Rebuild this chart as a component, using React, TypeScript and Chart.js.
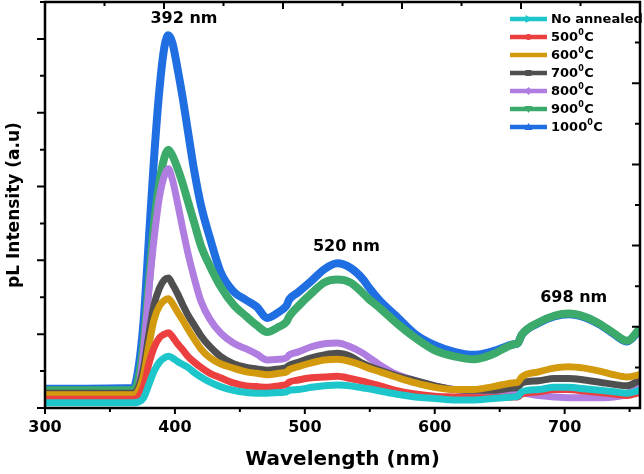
import { useEffect, useRef } from 'react';
import { Chart, registerables } from 'chart.js';

Chart.register(...registerables);

const FONT = '"DejaVu Sans", "Liberation Sans", sans-serif';

// wavelength grid (nm) shared by every spectrum
const wavelengths = [
  300, 368, 372, 376, 380, 384, 388, 392, 395, 398, 402, 406, 410, 415, 420, 427, 435, 445, 455, 463,
  471, 480, 486, 488, 495, 505, 515, 525, 535, 545, 549, 558, 570, 585, 600, 615, 630, 645, 660, 664,
  667, 680, 692, 703, 715, 727, 738, 748, 758,
];

// PL intensity (a.u.) for each sample
const noAnnealed = [
  0.07, 0.07, 0.08, 0.14, 0.32, 0.5, 0.62, 0.68, 0.7, 0.68, 0.63, 0.59, 0.55, 0.48, 0.42, 0.35, 0.29, 0.24, 0.21, 0.2,
  0.2, 0.21, 0.22, 0.24, 0.25, 0.28, 0.3, 0.31, 0.3, 0.27, 0.26, 0.23, 0.19, 0.15, 0.13, 0.11, 0.11, 0.13, 0.15, 0.16,
  0.22, 0.25, 0.28, 0.28, 0.26, 0.24, 0.22, 0.2, 0.24,
];
const t500 = [
  0.12, 0.12, 0.15, 0.3, 0.6, 0.82, 0.95, 1.0, 1.02, 0.97, 0.87, 0.79, 0.7, 0.62, 0.55, 0.47, 0.41, 0.34, 0.3, 0.29,
  0.28, 0.3, 0.32, 0.35, 0.38, 0.41, 0.42, 0.43, 0.4, 0.36, 0.34, 0.3, 0.24, 0.19, 0.16, 0.15, 0.14, 0.14, 0.15, 0.15,
  0.19, 0.22, 0.25, 0.25, 0.23, 0.21, 0.19, 0.17, 0.21,
];
const t600 = [
  0.18, 0.18, 0.24, 0.45, 0.85, 1.2, 1.38, 1.46, 1.48, 1.42, 1.3, 1.19, 1.07, 0.93, 0.8, 0.68, 0.6, 0.54, 0.49, 0.47,
  0.45, 0.47, 0.49, 0.52, 0.56, 0.61, 0.65, 0.66, 0.63, 0.57, 0.54, 0.49, 0.42, 0.34, 0.28, 0.25, 0.25, 0.29, 0.34, 0.35,
  0.42, 0.49, 0.54, 0.56, 0.54, 0.5, 0.45, 0.42, 0.45,
];
const t700 = [
  0.2, 0.2, 0.28, 0.55, 1.0, 1.4, 1.62, 1.74, 1.76, 1.68, 1.55, 1.4, 1.26, 1.12, 0.98, 0.83, 0.7, 0.6, 0.55, 0.53,
  0.51, 0.53, 0.55, 0.58, 0.62, 0.68, 0.72, 0.74, 0.7, 0.6, 0.57, 0.51, 0.44, 0.37, 0.3, 0.25, 0.24, 0.24, 0.27, 0.28,
  0.34, 0.37, 0.4, 0.4, 0.38, 0.35, 0.32, 0.3, 0.38,
];
const t800 = [
  0.15, 0.15, 0.25, 0.8, 1.6, 2.3, 2.85, 3.15, 3.24, 3.1, 2.78, 2.43, 2.1, 1.75, 1.45, 1.2, 1.02, 0.88, 0.8, 0.73,
  0.65, 0.66, 0.68, 0.72, 0.76, 0.83, 0.87, 0.88, 0.83, 0.74, 0.69, 0.58, 0.46, 0.37, 0.3, 0.25, 0.22, 0.2, 0.2, 0.2,
  0.2, 0.17, 0.15, 0.14, 0.14, 0.14, 0.15, 0.19, 0.35,
];
const t900 = [
  0.24, 0.24, 0.4, 0.9, 1.7, 2.5, 3.05, 3.4, 3.5, 3.42, 3.25, 3.04, 2.8, 2.5, 2.2, 1.92, 1.65, 1.4, 1.24, 1.12,
  1.03, 1.1, 1.17, 1.24, 1.38, 1.55, 1.7, 1.74, 1.7, 1.55, 1.48, 1.35, 1.16, 0.95, 0.78, 0.7, 0.66, 0.73, 0.86, 0.88,
  0.99, 1.16, 1.25, 1.28, 1.24, 1.14, 1.01, 0.91, 1.08,
];
const t1000 = [
  0.26, 0.27, 0.55, 1.2, 2.3, 3.4, 4.3, 4.9, 5.05, 4.95, 4.6, 4.2, 3.75, 3.2, 2.75, 2.3, 1.85, 1.58, 1.46, 1.37,
  1.22, 1.3, 1.39, 1.47, 1.57, 1.72, 1.88, 1.96, 1.9, 1.74, 1.64, 1.45, 1.25, 1.0, 0.85, 0.76, 0.72, 0.77, 0.86, 0.88,
  0.99, 1.15, 1.24, 1.27, 1.23, 1.13, 1.0, 0.9, 1.06,
];

const seriesLabels = ['No annealed', '500⁰C', '600⁰C', '700⁰C', '800⁰C', '900⁰C', '1000⁰C'];
const seriesValues = [noAnnealed, t500, t600, t700, t800, t900, t1000];
const seriesColors = ['#1DC6CA', '#EC3F3F', '#D39A0E', '#4F4F4F', '#B07DE0', '#3BAA6B', '#1F6FE2'];
const seriesWidths = [7, 7, 7, 7, 7, 8, 8];
const legendMarkers = ['triangle-right', 'circle', 'none', 'rect', 'diamond', 'triangle-down', 'triangle'];

// peak annotations
const peakLabels = ['392 nm', '520 nm', '698 nm'];
const peakLabelX = [407, 532, 707];
const peakLabelY = [5.27, 2.18, 1.49];

const xMin = 300;
const xMax = 758;
const yMin = 0;
const yMax = 5.5;

const frameAndTicks = {
  id: 'frameAndTicks',
  afterDatasetsDraw(chart) {
    const { ctx, chartArea: a, scales } = chart;
    ctx.save();
    ctx.strokeStyle = '#000';
    ctx.lineWidth = 2.5;
    ctx.strokeRect(a.left, a.top, a.right - a.left, a.bottom - a.top);
    ctx.lineWidth = 2;
    ctx.beginPath();
    for (let v = xMin; v <= xMax; v += 50) {
      const px = scales.x.getPixelForValue(v);
      const len = v % 100 === 0 ? 6 : 4;
      ctx.moveTo(px, a.bottom);
      ctx.lineTo(px, a.bottom + len);
    }
    for (let v = yMin; v <= yMax; v += 0.5) {
      const py = scales.y.getPixelForValue(v);
      const len = v % 1 === 0 ? 8 : 5;
      ctx.moveTo(a.left - len, py);
      ctx.lineTo(a.left, py);
    }
    for (let i = 0; i <= 10; i++) {
      const px = scales.xTop.getPixelForValue(i);
      const len = i % 2 === 0 ? 7 : 4;
      ctx.moveTo(px, a.top);
      ctx.lineTo(px, a.top + len);
      const py = scales.yRight.getPixelForValue(i);
      ctx.moveTo(a.right - len - 1, py);
      ctx.lineTo(a.right, py);
    }
    ctx.stroke();
    ctx.restore();
  },
};

const drawMarker = (ctx, kind, x, y, r) => {
  ctx.beginPath();
  if (kind === 'circle') ctx.arc(x, y, r, 0, Math.PI * 2);
  else if (kind === 'rect') ctx.rect(x - r, y - r, 2 * r, 2 * r);
  else if (kind === 'diamond') {
    ctx.moveTo(x, y - r - 1); ctx.lineTo(x + r + 1, y); ctx.lineTo(x, y + r + 1); ctx.lineTo(x - r - 1, y);
  } else if (kind === 'triangle') {
    ctx.moveTo(x, y - r - 1); ctx.lineTo(x + r + 1, y + r); ctx.lineTo(x - r - 1, y + r);
  } else if (kind === 'triangle-down') {
    ctx.moveTo(x, y + r + 1); ctx.lineTo(x + r + 1, y - r); ctx.lineTo(x - r - 1, y - r);
  } else if (kind === 'triangle-right') {
    ctx.moveTo(x + r + 1, y); ctx.lineTo(x - r, y - r - 1); ctx.lineTo(x - r, y + r + 1);
  } else return;
  ctx.closePath();
  ctx.fill();
};

const legendAndNotes = {
  id: 'legendAndNotes',
  afterDraw(chart) {
    const { ctx, chartArea: a, scales } = chart;
    ctx.save();
    ctx.textBaseline = 'middle';
    const x0 = a.right - 130;
    chart.data.datasets.forEach((ds, i) => {
      const y = a.top + 17 + i * 18;
      ctx.strokeStyle = ds.borderColor;
      ctx.fillStyle = ds.borderColor;
      ctx.lineWidth = 4.5;
      ctx.beginPath();
      ctx.moveTo(x0, y);
      ctx.lineTo(x0 + 37, y);
      ctx.stroke();
      drawMarker(ctx, legendMarkers[i], x0 + 18.5, y, 3);
      ctx.fillStyle = '#000';
      ctx.textAlign = 'left';
      const parts = ds.label.split('⁰');
      let tx = x0 + 41;
      ctx.font = `bold 13px ${FONT}`;
      ctx.fillText(parts[0], tx, y + 1);
      if (parts.length > 1) {
        tx += ctx.measureText(parts[0]).width;
        ctx.font = `bold 8px ${FONT}`;
        ctx.fillText('0', tx, y - 4);
        tx += ctx.measureText('0').width + 0.5;
        ctx.font = `bold 13px ${FONT}`;
        ctx.fillText(parts[1], tx, y + 1);
      }
    });
    ctx.font = `bold 16px ${FONT}`;
    ctx.textAlign = 'center';
    ctx.fillStyle = '#000';
    peakLabels.forEach((t, i) => {
      ctx.fillText(t, scales.x.getPixelForValue(peakLabelX[i]), scales.y.getPixelForValue(peakLabelY[i]));
    });
    ctx.restore();
  },
};

export default function App() {
  const canvasRef = useRef(null);

  useEffect(() => {
    const datasets = seriesLabels.map((label, i) => ({
      label,
      data: wavelengths.map((w, j) => ({ x: w, y: seriesValues[i][j] })),
      borderColor: seriesColors[i],
      backgroundColor: seriesColors[i],
      borderWidth: seriesWidths[i],
      pointRadius: 0,
      cubicInterpolationMode: 'monotone',
      fill: false,
    }));

    const chart = new Chart(canvasRef.current, {
      type: 'line',
      data: { datasets },
      options: {
        animation: false,
        responsive: true,
        maintainAspectRatio: false,
        layout: { padding: { top: 2, right: 4, left: 0, bottom: 0 } },
        plugins: { legend: { display: false }, tooltip: { enabled: false } },
        scales: {
          x: {
            type: 'linear',
            min: xMin,
            max: xMax,
            grid: { display: false, tickLength: 6 },
            border: { display: false },
            ticks: {
              stepSize: 100,
              includeBounds: false,
              color: '#000',
              padding: 4,
              font: { family: FONT, weight: 'bold', size: 16 },
            },
            title: {
              display: true,
              text: 'Wavelength (nm)',
              color: '#000',
              font: { family: FONT, weight: 'bold', size: 20 },
              padding: { top: 0, bottom: 2 },
            },
            afterFit: (scale) => { scale.height = 66; },
          },
          y: {
            min: yMin,
            max: yMax,
            grid: { display: false },
            border: { display: false },
            ticks: { display: false, stepSize: 1 },
            title: {
              display: true,
              text: 'pL Intensity (a.u)',
              color: '#000',
              font: { family: FONT, weight: 'bold', size: 17 },
              padding: { top: 4, bottom: 0 },
            },
            afterFit: (scale) => { scale.width = 45; },
          },
          xTop: { type: 'linear', position: 'top', min: 0, max: 10, display: false },
          yRight: { type: 'linear', position: 'right', min: 0, max: 10, display: false },
        },
      },
      plugins: [frameAndTicks, legendAndNotes],
    });

    return () => chart.destroy();
  }, []);

  return (
    <div style={{ position: 'absolute', left: 0, top: 0, width: 644, height: 474, background: '#fff' }}>
      <canvas ref={canvasRef} />
    </div>
  );
}
